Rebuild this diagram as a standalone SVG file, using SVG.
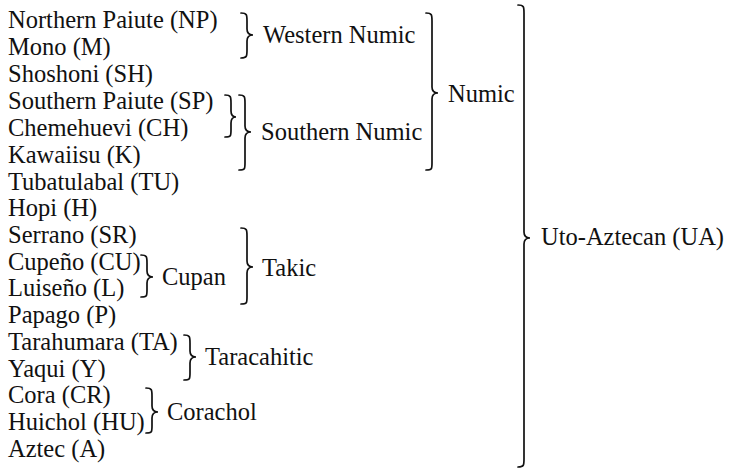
<svg xmlns="http://www.w3.org/2000/svg" width="729" height="468" viewBox="0 0 729 468">
  <style>
    text { font-family: "Liberation Serif", "Times New Roman", serif; font-size: 24.5px; fill: #111; }
    .brace { fill: none; stroke: #111; stroke-width: 1.7; stroke-linecap: round; }
  </style>
  <rect width="729" height="468" fill="#fff"/>

  <!-- language list, one row per language -->
  <g id="languages">
    <text x="8" y="28">Northern Paiute (NP)</text>
    <text x="8" y="55">Mono (M)</text>
    <text x="8" y="82">Shoshoni (SH)</text>
    <text x="8" y="109">Southern Paiute (SP)</text>
    <text x="8" y="136">Chemehuevi (CH)</text>
    <text x="8" y="163">Kawaiisu (K)</text>
    <text x="8" y="190">Tubatulabal (TU)</text>
    <text x="8" y="216">Hopi (H)</text>
    <text x="8" y="243">Serrano (SR)</text>
    <text x="8" y="270">Cupeño (CU)</text>
    <text x="8" y="296">Luiseño (L)</text>
    <text x="8" y="323">Papago (P)</text>
    <text x="8" y="350">Tarahumara (TA)</text>
    <text x="8" y="377">Yaqui (Y)</text>
    <text x="8" y="403">Cora (CR)</text>
    <text x="8" y="430">Huichol (HU)</text>
    <text x="8" y="457">Aztec (A)</text>
  </g>

  <!-- group labels -->
  <g id="western-numic"><text x="263" y="43">Western Numic</text></g>
  <g id="southern-numic"><text x="261" y="140">Southern Numic</text></g>
  <g id="numic"><text x="448" y="102">Numic</text></g>
  <g id="cupan"><text x="162" y="285">Cupan</text></g>
  <g id="takic"><text x="262" y="276">Takic</text></g>
  <g id="taracahitic"><text x="205" y="365">Taracahitic</text></g>
  <g id="corachol"><text x="167" y="420">Corachol</text></g>
  <g id="uto-aztecan"><text x="541" y="245">Uto-Aztecan (UA)</text></g>

  <!-- curly braces: top end, tip pointing right, bottom end -->
  <g id="connectors">
    <!-- Western Numic -->
    <path class="brace" d="M241,13 C247,13 247,15 247,21 L247,29 C247,33 249,35 253,35 C249,35 247,37 247,41 L247,50 C247,56 247,58 241,58"/>
    <!-- Southern Paiute + Chemehuevi -->
    <path class="brace" d="M225,95 C231,95 231,97 231,103 L231,111 C231,115 233,117 236,117 C233,117 231,119 231,123 L231,130 C231,136 231,137 225,137"/>
    <!-- Southern Numic -->
    <path class="brace" d="M239,95 C245,95 245,97 245,103 L245,126 C245,130 247,132 251,132 C247,132 245,134 245,138 L245,163 C245,169 245,170 239,170"/>
    <!-- Numic -->
    <path class="brace" d="M426,13 C432,13 432,15 432,21 L432,87 C432,91 434,93 438,93 C434,93 432,95 432,99 L432,163 C432,169 432,170 426,170"/>
    <!-- Uto-Aztecan -->
    <path class="brace" d="M518,5 C524,5 524,7 524,13 L524,232 C524,236 526,238 530,238 C526,238 524,240 524,244 L524,459 C524,465 524,467 518,467"/>
    <!-- Cupan -->
    <path class="brace" d="M141,255 C147,255 147,257 147,263 L147,271 C147,275 149,277 153,277 C149,277 147,279 147,283 L147,290 C147,296 147,297 141,297"/>
    <!-- Takic -->
    <path class="brace" d="M241,228 C247,228 247,230 247,236 L247,261 C247,265 249,267 253,267 C249,267 247,269 247,273 L247,297 C247,303 247,304 241,304"/>
    <!-- Taracahitic -->
    <path class="brace" d="M184,335 C190,335 190,337 190,343 L190,351 C190,355 192,357 196,357 C192,357 190,359 190,363 L190,373 C190,379 190,380 184,380"/>
    <!-- Corachol -->
    <path class="brace" d="M146,388 C152,388 152,390 152,396 L152,406 C152,410 154,412 158,412 C154,412 152,414 152,418 L152,426 C152,432 152,433 146,433"/>
  </g>
</svg>
